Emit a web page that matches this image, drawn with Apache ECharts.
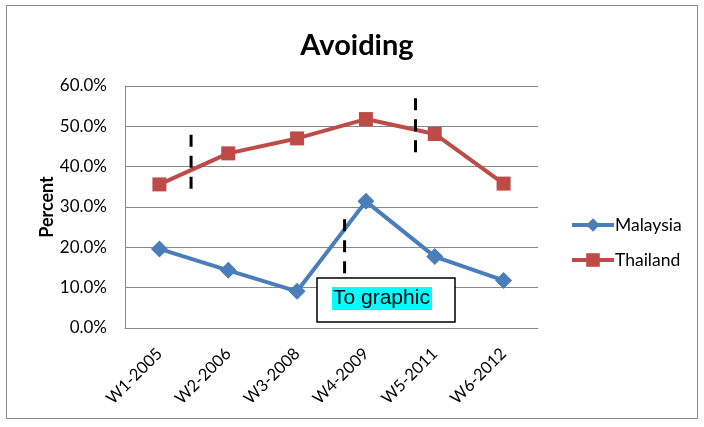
<!DOCTYPE html>
<html>
<head>
<meta charset="utf-8">
<script src="https://cdn.jsdelivr.net/npm/echarts@6/dist/echarts.min.js"></script>
<style>
html,body{margin:0;padding:0;background:#fff;}
#chart{width:704px;height:427px;}
</style>
</head>
<body>
<div id="chart"></div>
<script>
var categories = ['W1-2005', 'W2-2006', 'W3-2008', 'W4-2009', 'W5-2011', 'W6-2012'];
var malaysia = [19.6, 14.3, 9.1, 31.4, 17.7, 11.8];
var thailand = [35.6, 43.3, 47.0, 51.8, 48.1, 35.8];
var yTicks = [0, 10, 20, 30, 40, 50, 60];
// dashed annotation lines: [category position, y start, y end]
var dashLines = [[0.46, 34.5, 49.3], [3.72, 43.6, 58.0], [2.69, 13.6, 28.5]];

var FONT = 'Lato, "Open Sans", sans-serif';
var chart = echarts.init(document.getElementById('chart'), null, {renderer: 'canvas'});

var dashSeries = dashLines.map(function (d) {
  return {
    type: 'line', xAxisIndex: 1, silent: true, symbol: 'none',
    data: [[d[0], d[1]], [d[0], d[2]]],
    lineStyle: {color: '#000', width: 3, type: [12, 9]},
    z: 5
  };
});

chart.setOption({
  animation: false,
  backgroundColor: '#fff',
  title: {
    text: 'Avoiding', left: 352, top: 26, textAlign: 'center',
    textStyle: {fontFamily: FONT, fontSize: 29, fontWeight: 'bold', color: '#000'}
  },
  legend: {
    orient: 'vertical', left: 565, top: 211, itemWidth: 42, itemHeight: 17, itemGap: 17,
    data: ['Malaysia', 'Thailand'],
    lineStyle: {width: 4},
    textStyle: {fontFamily: FONT, fontSize: 17.5, color: '#000', padding: [0, 0, 0, -4]}
  },
  grid: {left: 125, right: 166, top: 86, bottom: 99},
  xAxis: [{
    type: 'category', data: categories, boundaryGap: true,
    axisLine: {lineStyle: {color: '#888', width: 1}},
    axisTick: {show: false},
    axisLabel: {rotate: 45, margin: 23, fontFamily: FONT, fontSize: 16.5, color: '#000', interval: 0}
  }, {
    type: 'value', min: -0.5, max: 5.5, show: false
  }],
  yAxis: {
    type: 'value', min: yTicks[0], max: yTicks[yTicks.length - 1], interval: 10,
    name: 'Percent', nameLocation: 'middle', nameGap: 69, nameRotate: 90, nameMoveOverlap: false,
    nameTextStyle: {fontFamily: FONT, fontSize: 18, fontWeight: 'bold', color: '#000'},
    axisLine: {show: true, onZero: false, lineStyle: {color: '#888', width: 1}},
    axisTick: {show: false},
    splitLine: {lineStyle: {color: '#888', width: 1}},
    axisLabel: {margin: 18, fontFamily: FONT, fontSize: 17, color: '#000',
      formatter: function (v) { return v.toFixed(1) + '%'; }}
  },
  series: [{
    name: 'Malaysia', type: 'line', data: malaysia,
    symbol: 'diamond', symbolSize: 17,
    lineStyle: {color: '#4A7EBB', width: 4},
    itemStyle: {color: '#4A7EBB'}, z: 3
  }, {
    name: 'Thailand', type: 'line', data: thailand,
    symbol: 'rect', symbolSize: 14,
    lineStyle: {color: '#BE4B48', width: 4},
    itemStyle: {color: '#BE4B48'}, z: 3
  }].concat(dashSeries),
  graphic: [
    {type: 'rect', shape: {x: 6.5, y: 5.5, width: 691, height: 413}, style: {fill: null, stroke: '#888', lineWidth: 1}, silent: true},
    {type: 'rect', shape: {x: 317, y: 278, width: 138, height: 44}, style: {fill: '#fff', stroke: '#000', lineWidth: 1.5}, z: 10},
    {type: 'rect', shape: {x: 332, y: 287, width: 100, height: 23}, style: {fill: '#00FFFF'}, z: 11},
    {type: 'text', x: 333, y: 298.5, style: {text: 'To graphic', font: '21px "Liberation Sans", Arial, sans-serif', fill: '#000', textVerticalAlign: 'middle'}, z: 12}
  ]
});
</script>
</body>
</html>
